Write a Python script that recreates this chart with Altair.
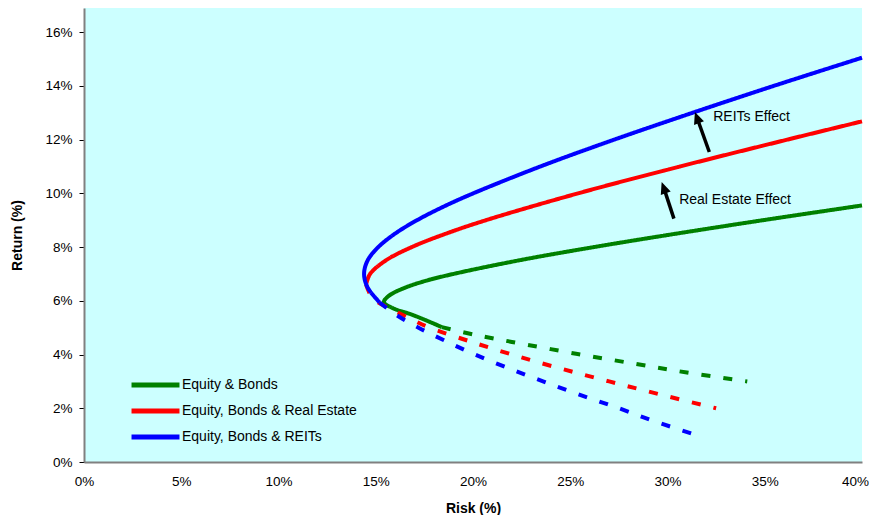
import altair as alt
import pandas as pd

# ---------------- data (risk % , return %) ----------------
SERIES = ["Equity & Bonds", "Equity, Bonds & Real Estate", "Equity, Bonds & REITs"]
COLORS = ["#008000", "#FF0000", "#0000FF"]

green_risk = [40.0, 34.9, 30.45, 26.21, 22.32, 18.99, 17.6, 16.55, 15.7, 15.42,
              15.9, 16.8, 17.6, 18.4, 20.0, 22.0, 25.3, 28.3, 31.0, 34.1]
green_return = [9.55, 9.0, 8.5, 8.0, 7.5, 7.0, 6.75, 6.5, 6.2, 5.95,
                5.72, 5.5, 5.27, 5.02, 4.75, 4.47, 4.03, 3.66, 3.33, 3.0]

red_risk = [40.0, 36.16, 30.64, 25.4, 20.66, 18.61, 16.85, 15.51, 14.71, 14.5,
            14.75, 15.1, 15.9, 16.76, 17.7, 19.8, 22.0, 24.4, 27.0, 29.7, 32.5]
red_return = [12.68, 12.0, 11.0, 10.0, 9.0, 8.5, 8.0, 7.5, 7.0, 6.6,
              6.2, 5.95, 5.65, 5.34, 5.02, 4.5, 4.0, 3.5, 3.0, 2.5, 2.0]

blue_risk = [40.0, 35.46, 31.29, 27.26, 23.46, 20.01, 18.47, 17.12, 15.99, 15.13,
             14.58, 14.4, 14.58, 15.2, 16.0, 17.2, 18.6, 20.1, 21.8, 23.6, 25.5,
             27.5, 29.4, 31.7]
blue_return = [15.05, 14.0, 13.0, 12.0, 11.0, 10.0, 9.5, 9.0, 8.5, 8.0,
               7.5, 7.0, 6.5, 5.94, 5.5, 5.0, 4.5, 4.0, 3.5, 3.0, 2.5,
               2.0, 1.5, 0.95]

# number of leading points of each series drawn as a solid line (rest dashed)
solid_count = {SERIES[0]: 14, SERIES[1]: 10, SERIES[2]: 14}

# annotation arrows: tail -> head (risk %, return %)
arrow_labels = ["REITs Effect", "Real Estate Effect"]
arrow_tail_risk = [32.15, 30.33]
arrow_tail_return = [11.54, 9.06]
arrow_shaft_risk = [31.55, 29.84]
arrow_shaft_return = [12.75, 10.14]
arrow_head_risk = [31.41, 29.70]
arrow_head_return = [13.03, 10.42]
label_risk = [32.35, 30.6]
label_return = [12.84, 9.77]

# ---------------- build table ----------------
rows = []
for name, rk, rt in zip(SERIES, [green_risk, red_risk, blue_risk],
                        [green_return, red_return, blue_return]):
    n = solid_count[name]
    for i, (a, b) in enumerate(zip(rk, rt)):
        if i < n:
            rows.append(dict(series=name, seg="solid", key=name + "|s", idx=i, risk=a, ret=b))
        if i >= n - 1:
            rows.append(dict(series=name, seg="dash", key=name + "|d", idx=i, risk=a, ret=b))
df = pd.DataFrame(rows)

arr = pd.DataFrame(dict(label=arrow_labels,
                        tx=arrow_tail_risk, ty=arrow_tail_return,
                        sx=arrow_shaft_risk, sy=arrow_shaft_return,
                        hx=arrow_head_risk, hy=arrow_head_return,
                        lx=label_risk, ly=label_return))

FONT = "Liberation Sans"

xscale = alt.Scale(domain=[0, 40], nice=False, zero=False)
yscale = alt.Scale(domain=[0, 16.9], nice=False, zero=False)

xaxis = alt.Axis(values=[0, 5, 10, 15, 20, 25, 30, 35, 40],
                 labelExpr="datum.value + '%'", ticks=False, grid=False,
                 domainColor="#808080", domainWidth=2,
                 labelFont=FONT, labelFontSize=13.5, labelColor="black",
                 labelPadding=12, labelFlush=False,
                 labelOffset={"expr": "datum.value == 40 ? -7 : 0"},
                 title="Risk (%)", titleFont=FONT, titleFontSize=14,
                 titleFontWeight="bold", titleColor="black", titlePadding=14)
yaxis = alt.Axis(values=[0, 2, 4, 6, 8, 10, 12, 14, 16],
                 labelExpr="datum.value + '%'", ticks=True, tickSize=5,
                 tickColor="black", tickWidth=1, grid=False,
                 domainColor="#808080", domainWidth=2,
                 labelFont=FONT, labelFontSize=13.5, labelColor="black",
                 labelPadding=7,
                 title="Return (%)", titleFont=FONT, titleFontSize=14,
                 titleFontWeight="bold", titleColor="black", titlePadding=20)

lines = alt.Chart(df).mark_line(strokeWidth=4, interpolate="catmull-rom",
                                strokeCap="butt").encode(
    x=alt.X("risk:Q", scale=xscale, axis=xaxis),
    y=alt.Y("ret:Q", scale=yscale, axis=yaxis),
    color=alt.Color("series:N", scale=alt.Scale(domain=SERIES, range=COLORS),
                    legend=alt.Legend(title=None, orient="none", legendX=45,
                                      legendY=364, symbolType="stroke",
                                      symbolSize=2300, symbolStrokeWidth=5,
                                      clipHeight=26,
                                      labelFont=FONT, labelFontSize=14,
                                      labelColor="black", labelOffset=0,
                                      labelLimit=0,
                                      rowPadding=0, padding=0)),
    strokeDash=alt.StrokeDash("seg:N", scale=alt.Scale(domain=["solid", "dash"],
                                                       range=[[1, 0], [9, 13]]),
                              legend=None),
    detail="key:N",
    order="idx:Q",
)

shafts = alt.Chart(arr).mark_rule(color="black", strokeWidth=3.5).encode(
    x=alt.X("tx:Q", scale=xscale), y=alt.Y("ty:Q", scale=yscale),
    x2="sx:Q", y2="sy:Q")

heads = alt.Chart(arr).mark_point(shape="M0,0L0.75,1.7L-0.75,1.7Z", filled=True,
                                  size=196, color="black", opacity=1,
                                  strokeWidth=0, angle=340).encode(
    x=alt.X("hx:Q", scale=xscale), y=alt.Y("hy:Q", scale=yscale))

labels = alt.Chart(arr).mark_text(align="left", baseline="middle", font=FONT,
                                  fontSize=14, color="black").encode(
    x=alt.X("lx:Q", scale=xscale), y=alt.Y("ly:Q", scale=yscale), text="label:N")

chart = alt.layer(lines, shafts, heads, labels).properties(
    width=778, height=454,
    autosize=alt.AutoSizeParams(type="none"),
    padding={"left": 76, "top": 0, "right": 7, "bottom": 53},
).configure_view(fill="#CCFFFF", stroke=None)

chart.save("out.html", embed_options={"renderer": "svg", "actions": False})
